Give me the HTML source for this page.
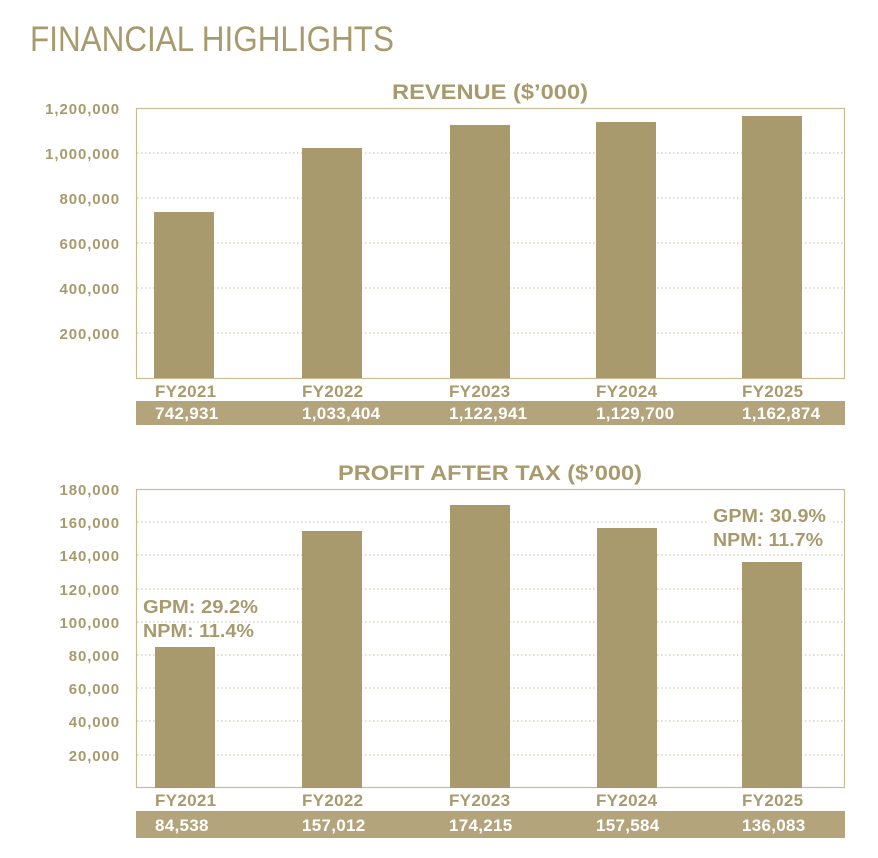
<!DOCTYPE html>
<html><head><meta charset="utf-8"><style>
html,body{margin:0;padding:0;background:#fff;}
svg{display:block;font-family:"Liberation Sans",sans-serif;}
</style></head><body>
<svg width="878" height="858" viewBox="0 0 878 858" xmlns="http://www.w3.org/2000/svg">
<text x="30" y="51" font-size="35" fill="#a89a6d" textLength="364" lengthAdjust="spacingAndGlyphs">FINANCIAL HIGHLIGHTS</text>

<!-- Revenue -->
<text x="392" y="99" font-size="21" font-weight="bold" fill="#a89a6d" textLength="196" lengthAdjust="spacingAndGlyphs">REVENUE ($’000)</text>
<g stroke="#c8bc98" stroke-width="1" stroke-dasharray="1.5,2.5">
<line x1="137" y1="153" x2="844" y2="153"/><line x1="137" y1="198" x2="844" y2="198"/>
<line x1="137" y1="243" x2="844" y2="243"/><line x1="137" y1="288" x2="844" y2="288"/>
<line x1="137" y1="333" x2="844" y2="333"/>
</g>
<rect x="136.5" y="108.5" width="708" height="270" fill="none" stroke="#c9bb93" stroke-width="1.2"/>
<g font-size="15" font-weight="bold" fill="#a89a6d" text-anchor="end" letter-spacing="0.9">
<text x="120" y="114">1,200,000</text><text x="120" y="159">1,000,000</text>
<text x="120" y="204">800,000</text><text x="120" y="249">600,000</text>
<text x="120" y="294">400,000</text><text x="120" y="339">200,000</text>
</g>
<g fill="#a99a6e">
<rect x="154" y="212" width="60" height="166"/>
<rect x="302" y="148" width="60" height="230"/>
<rect x="450" y="125" width="60" height="253"/>
<rect x="596" y="122" width="60" height="256"/>
<rect x="742" y="116" width="60" height="262"/>
</g>
<g font-size="17" font-weight="bold" fill="#a89a6d" letter-spacing="0.3">
<text x="155" y="397">FY2021</text><text x="302" y="397">FY2022</text><text x="449" y="397">FY2023</text><text x="596" y="397">FY2024</text><text x="742" y="397">FY2025</text>
</g>
<rect x="136" y="401" width="709" height="24" fill="#b3a47c"/>
<g font-size="17" font-weight="bold" fill="#fff" letter-spacing="0.3">
<text x="155" y="419">742,931</text><text x="302" y="419">1,033,404</text><text x="449" y="419">1,122,941</text><text x="596" y="419">1,129,700</text><text x="742" y="419">1,162,874</text>
</g>

<!-- Profit -->
<text x="338" y="480" font-size="21" font-weight="bold" fill="#a89a6d" textLength="304" lengthAdjust="spacingAndGlyphs">PROFIT AFTER TAX ($’000)</text>
<g stroke="#c8bc98" stroke-width="1" stroke-dasharray="1.5,2.5">
<line x1="137" y1="522" x2="844" y2="522"/><line x1="137" y1="555" x2="844" y2="555"/>
<line x1="137" y1="589" x2="844" y2="589"/><line x1="137" y1="622" x2="844" y2="622"/>
<line x1="137" y1="655" x2="844" y2="655"/><line x1="137" y1="688" x2="844" y2="688"/>
<line x1="137" y1="721" x2="844" y2="721"/><line x1="137" y1="755" x2="844" y2="755"/>
</g>
<rect x="136.5" y="489.5" width="708" height="298" fill="none" stroke="#c9bb93" stroke-width="1.2"/>
<g font-size="15" font-weight="bold" fill="#a89a6d" text-anchor="end" letter-spacing="0.9">
<text x="120" y="495">180,000</text><text x="120" y="528">160,000</text><text x="120" y="561">140,000</text>
<text x="120" y="595">120,000</text><text x="120" y="628">100,000</text><text x="120" y="661">80,000</text>
<text x="120" y="694">60,000</text><text x="120" y="727">40,000</text><text x="120" y="761">20,000</text>
</g>
<g fill="#a99a6e">
<rect x="155" y="647" width="60" height="141"/>
<rect x="302" y="531" width="60" height="257"/>
<rect x="450" y="505" width="60" height="283"/>
<rect x="597" y="528" width="60" height="260"/>
<rect x="742" y="562" width="60" height="226"/>
</g>
<rect x="708" y="503" width="122" height="50" fill="#fff"/>
<g font-size="18" font-weight="bold" fill="#a89a6d">
<text x="143" y="613" textLength="115" lengthAdjust="spacingAndGlyphs">GPM: 29.2%</text><text x="143" y="637" textLength="111" lengthAdjust="spacingAndGlyphs">NPM: 11.4%</text>
<text x="713" y="522" textLength="113" lengthAdjust="spacingAndGlyphs">GPM: 30.9%</text><text x="713" y="546" textLength="110" lengthAdjust="spacingAndGlyphs">NPM: 11.7%</text>
</g>
<g font-size="17" font-weight="bold" fill="#a89a6d" letter-spacing="0.3">
<text x="155" y="806">FY2021</text><text x="302" y="806">FY2022</text><text x="449" y="806">FY2023</text><text x="596" y="806">FY2024</text><text x="742" y="806">FY2025</text>
</g>
<rect x="136" y="811" width="709" height="27" fill="#b3a47c"/>
<g font-size="17" font-weight="bold" fill="#fff" letter-spacing="0.3">
<text x="155" y="831">84,538</text><text x="302" y="831">157,012</text><text x="449" y="831">174,215</text><text x="596" y="831">157,584</text><text x="742" y="831">136,083</text>
</g>
</svg>
</body></html>
